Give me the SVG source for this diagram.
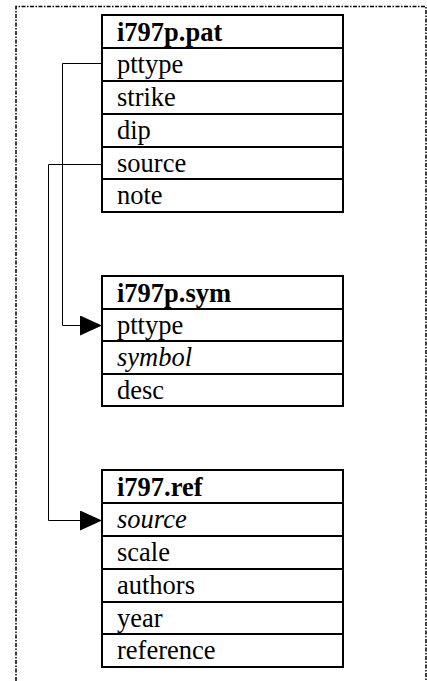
<svg xmlns="http://www.w3.org/2000/svg" width="427" height="681" viewBox="0 0 427 681">
<style>
.frame{fill:none;stroke:#000;stroke-width:1.5;stroke-dasharray:4,1.5,1.5,1.5}
.tbl{fill:#fff;stroke:#000;stroke-width:2}
.ln{stroke:#000;stroke-width:2}
.t{font-family:"Liberation Serif","Times New Roman",serif;font-size:26.5px;fill:#000}
.h{font-weight:bold}
.i{font-style:italic}
.conn{fill:none;stroke:#000;stroke-width:1}
</style>
<defs>
<marker id="arr" markerUnits="userSpaceOnUse" markerWidth="22" markerHeight="20" refX="22" refY="10" orient="auto">
<path d="M0,0 L22,10 L0,20 Z" fill="#000"/>
</marker>
</defs>
<path class="frame" d="M16,681 V6.5 H426 V681"/>
<g id="pat">
<rect class="tbl" x="102" y="15" width="241" height="197"/>
<line class="ln" x1="102" y1="48" x2="343" y2="48"/>
<line class="ln" x1="102" y1="81" x2="343" y2="81"/>
<line class="ln" x1="102" y1="114" x2="343" y2="114"/>
<line class="ln" x1="102" y1="147" x2="343" y2="147"/>
<line class="ln" x1="102" y1="179" x2="343" y2="179"/>
<text class="t h" x="117" y="41">i797p.pat</text>
<text class="t" x="117" y="73">pttype</text>
<text class="t" x="117" y="106">strike</text>
<text class="t" x="117" y="139">dip</text>
<text class="t" x="117" y="172">source</text>
<text class="t" x="117" y="204">note</text>
</g>
<g id="sym">
<rect class="tbl" x="102" y="276" width="241" height="130"/>
<line class="ln" x1="102" y1="309" x2="343" y2="309"/>
<line class="ln" x1="102" y1="341" x2="343" y2="341"/>
<line class="ln" x1="102" y1="374" x2="343" y2="374"/>
<text class="t h" x="117" y="302">i797p.sym</text>
<text class="t" x="117" y="334">pttype</text>
<text class="t i" x="117" y="366">symbol</text>
<text class="t" x="117" y="399">desc</text>
</g>
<g id="ref">
<rect class="tbl" x="102" y="470" width="241" height="197"/>
<line class="ln" x1="102" y1="503" x2="343" y2="503"/>
<line class="ln" x1="102" y1="536" x2="343" y2="536"/>
<line class="ln" x1="102" y1="569" x2="343" y2="569"/>
<line class="ln" x1="102" y1="602" x2="343" y2="602"/>
<line class="ln" x1="102" y1="634" x2="343" y2="634"/>
<text class="t h" x="117" y="496">i797.ref</text>
<text class="t i" x="117" y="528">source</text>
<text class="t" x="117" y="561">scale</text>
<text class="t" x="117" y="594">authors</text>
<text class="t" x="117" y="627">year</text>
<text class="t" x="117" y="659">reference</text>
</g>
<g id="connectors">
<path class="conn" d="M102,63.5 H62.5 V325.5 H102" marker-end="url(#arr)"/>
<path class="conn" d="M102,164.5 H48.5 V520.5 H102" marker-end="url(#arr)"/>
</g>
</svg>
